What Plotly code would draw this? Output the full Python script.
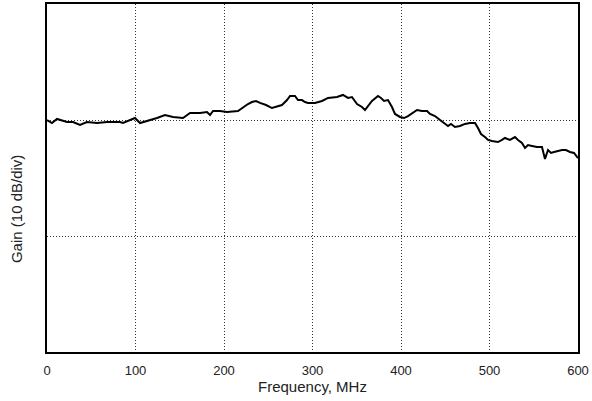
import plotly.graph_objects as go

freq_mhz = [0, 5.6, 11.3, 22.6, 29.4, 37.3, 45.2, 56.5, 67.8, 76.8, 82.5, 85.9, 93.8, 99.4, 105.1,
            113, 124.3, 133.3, 142.4, 153.7, 161.6, 172.9, 180.8, 184.2, 187.6, 195.5, 203.4, 215.8,
            220.3, 227.1, 231.6, 236.2, 240.7, 247.5, 254.2, 261, 265.5, 271.2, 274.6, 280.2, 283.6,
            288.1, 291.5, 294.9, 302.8, 310.7, 317.5, 327.7, 334.4, 340.1, 344.6, 350.3, 355.9, 359.3,
            362.7, 367.2, 374, 377.4, 380.8, 385.3, 389.8, 393.2, 398.9, 403.4, 407.9, 412.4, 418.1,
            423.7, 429.4, 432.8, 438.4, 444.1, 448.6, 453.1, 456.5, 461, 466.6, 472.3, 477.9, 483.6,
            487, 490.4, 494.9, 498.3, 502.8, 509.6, 514.1, 517.5, 523.1, 528.8, 532.2, 536.7, 540.1,
            543.5, 548, 553.7, 559.3, 562.7, 566.1, 569.5, 572.9, 577.4, 581.9, 586.4, 590.9, 595.5, 600]
gain_db = [20.0, 19.74, 20.09, 19.83, 19.83, 19.57, 19.83, 19.74, 19.83, 19.83, 19.83, 19.74, 20.0, 20.17, 19.74,
           19.91, 20.17, 20.43, 20.26, 20.17, 20.6, 20.6, 20.69, 20.43, 20.78, 20.78, 20.69, 20.78,
           21.03, 21.38, 21.55, 21.64, 21.47, 21.29, 21.03, 21.21, 21.29, 21.72, 22.07, 22.07, 21.72,
           21.72, 21.55, 21.47, 21.47, 21.64, 21.9, 21.98, 22.16, 21.9, 21.98, 21.38, 21.12, 20.86,
           21.21, 21.64, 22.07, 21.9, 21.64, 21.72, 21.12, 20.52, 20.26, 20.17, 20.34, 20.6, 20.86,
           20.78, 20.78, 20.52, 20.34, 20.0, 19.74, 19.48, 19.66, 19.4, 19.48, 19.66, 19.74, 19.74,
           19.31, 18.79, 18.53, 18.28, 18.19, 18.1, 18.28, 18.45, 18.28, 18.53, 18.28, 18.02, 17.59,
           17.84, 17.76, 17.67, 17.67, 16.64, 17.41, 17.16, 17.24, 17.33, 17.41, 17.41, 17.24, 17.16, 16.72]
x_ticks = [0, 100, 200, 300, 400, 500, 600]
y_label = "Gain (10 dB/div)"
x_label = "Frequency, MHz"

FONT = "Liberation Sans Narrow, Arial Narrow, Liberation Sans, Arial, sans-serif"
TXT = "#222222"

fig = go.Figure()
fig.add_trace(go.Scatter(x=freq_mhz, y=gain_db, mode="lines",
                         line=dict(color="black", width=2), showlegend=False))

fig.update_layout(
    template="none",
    width=592, height=401,
    margin=dict(l=47, r=14, t=4, b=49, autoexpand=False),
    plot_bgcolor="white", paper_bgcolor="white",
    font=dict(family=FONT, size=13, color=TXT),
)
fig.update_xaxes(
    range=[0, 600], tickvals=x_ticks, ticktext=[str(v) for v in x_ticks],
    showgrid=True, gridcolor="#333333", griddash="1px,2px", gridwidth=1,
    showline=True, linecolor="black", linewidth=2, mirror=True,
    ticks="", ticklabelstandoff=5, zeroline=False, automargin=False,
    tickfont=dict(size=13, color=TXT),
    title=dict(text=x_label, standoff=0, font=dict(size=15, color=TXT)),
)
fig.update_yaxes(
    range=[0, 30], dtick=10, showticklabels=False,
    showgrid=True, gridcolor="#333333", griddash="1px,2px", gridwidth=1,
    showline=True, linecolor="black", linewidth=2, mirror=True,
    ticks="", zeroline=False, automargin=False,
)
fig.add_annotation(
    text=y_label, textangle=-90, showarrow=False,
    xref="paper", yref="paper", x=-0.057, y=0.41,
    xanchor="center", yanchor="middle",
    font=dict(size=15, color=TXT),
)

fig.write_html("out.html", config={"displayModeBar": False},
               post_script="document.body.style.margin='0';document.body.style.overflow='hidden';")
